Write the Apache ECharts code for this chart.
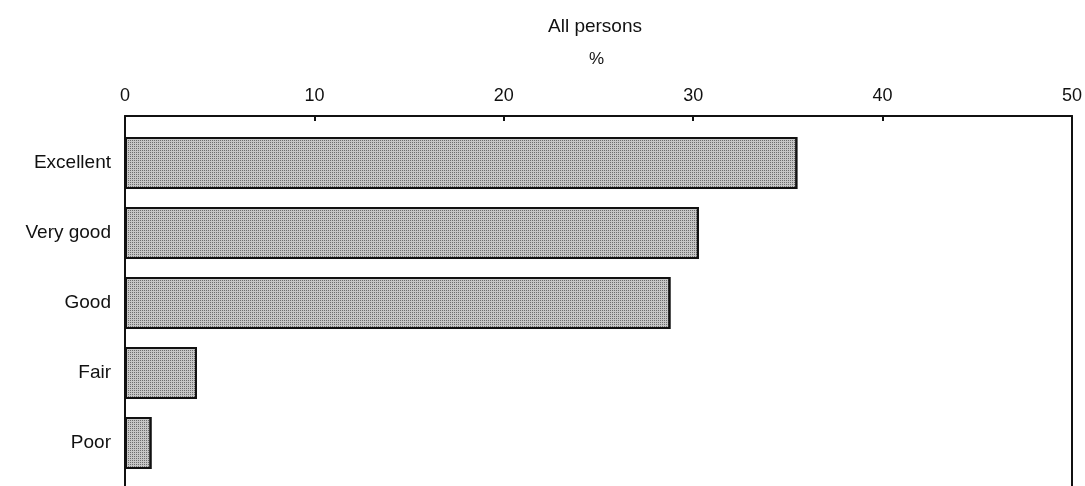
<!DOCTYPE html>
<html>
<head>
<meta charset="utf-8">
<script src="https://cdn.jsdelivr.net/npm/echarts@6/dist/echarts.min.js"></script>
<style>html,body{margin:0;padding:0;background:#fff}#c{width:1085px;height:486px}</style>
</head>
<body>
<div id="c"></div>
<script>
var categories = ['Excellent', 'Very good', 'Good', 'Fair', 'Poor'];
var values = [35.5, 30.3, 28.8, 3.8, 1.4];
var xTicks = [0, 10, 20, 30, 40, 50];
var titleText = 'All persons';
var unitText = '%';

var chart = echarts.init(document.getElementById('c'), null, {renderer: 'canvas'});
var font = 'Liberation Sans, Arial, sans-serif';
var ink = '#111';
chart.setOption({
  animation: false,
  backgroundColor: '#fff',
  graphic: [
    {type: 'text', left: 548, top: 17, style: {text: titleText, font: '19px ' + font, fill: ink}},
    {type: 'text', left: 589, top: 51, style: {text: unitText, font: '17px ' + font, fill: ink}}
  ],
  grid: [
    {left: 125, right: 13, top: 116, bottom: -30},
    {left: 125, right: 13, top: 128, height: 350}
  ],
  xAxis: [
    {gridIndex: 0, type: 'value', position: 'top', min: xTicks[0], max: xTicks[xTicks.length - 1], interval: 10,
     axisLine: {show: true, onZero: false, lineStyle: {color: ink, width: 2}},
     axisTick: {show: true, inside: true, length: 5, lineStyle: {color: ink, width: 2}},
     axisLabel: {fontSize: 18, fontFamily: font, color: ink, margin: 11},
     splitLine: {show: false}},
    {gridIndex: 1, type: 'value', min: xTicks[0], max: xTicks[xTicks.length - 1], show: false}
  ],
  yAxis: [
    {gridIndex: 0, type: 'value', position: 'left', min: 0, max: 1,
     axisLine: {show: true, onZero: false, lineStyle: {color: ink, width: 2}}, axisTick: {show: false}, axisLabel: {show: false}, splitLine: {show: false}},
    {gridIndex: 0, type: 'value', position: 'right', min: 0, max: 1,
     axisLine: {show: true, onZero: false, lineStyle: {color: ink, width: 2}}, axisTick: {show: false}, axisLabel: {show: false}, splitLine: {show: false}},
    {gridIndex: 1, type: 'category', inverse: true, data: categories,
     axisLine: {show: false}, axisTick: {show: false},
     axisLabel: {fontSize: 19, fontFamily: font, color: ink, margin: 14}}
  ],
  series: [{
    type: 'bar', xAxisIndex: 1, yAxisIndex: 2, data: values, barWidth: 52,
    itemStyle: {
      color: '#c6c6c6', borderColor: ink, borderWidth: 2,
      decal: {symbol: 'rect', symbolSize: 1, dashArrayX: [1, 1], dashArrayY: [1, 1], color: 'rgba(0,0,0,0.45)', rotation: 0}
    }
  }]
});
</script>
</body>
</html>
